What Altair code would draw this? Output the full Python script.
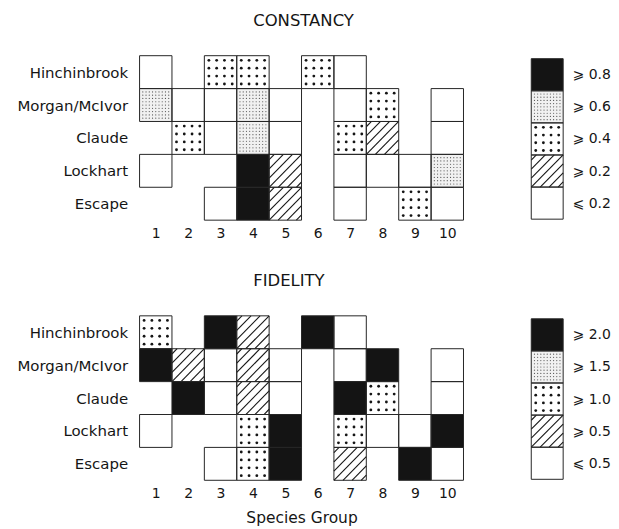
import altair as alt
import pandas as pd

# ---------------- data ----------------
SITES = ["Hinchinbrook", "Morgan/McIvor", "Claude", "Lockhart", "Escape"]
GROUPS = [1, 2, 3, 4, 5, 6, 7, 8, 9, 10]

# class codes: "b" black (highest), "f" fine stipple, "c" coarse dots,
# "h" hatched, "w" white (lowest); None = species group absent
CONST_HINCHINBROOK = ["w", None, "c", "c", None, "c", "w", None, None, None]
CONST_MORGAN = ["f", "w", "w", "f", "w", None, "w", "c", None, "w"]
CONST_CLAUDE = [None, "c", "w", "f", "w", None, "c", "h", None, "w"]
CONST_LOCKHART = ["w", None, None, "b", "h", None, "w", "w", "w", "f"]
CONST_ESCAPE = [None, None, "w", "b", "h", None, "w", None, "c", "w"]

FID_HINCHINBROOK = ["c", None, "b", "h", None, "b", "w", None, None, None]
FID_MORGAN = ["b", "h", "w", "h", "w", None, "w", "b", None, "w"]
FID_CLAUDE = [None, "b", "w", "h", "w", None, "b", "c", None, "w"]
FID_LOCKHART = ["w", None, None, "c", "b", None, "c", "w", "w", "b"]
FID_ESCAPE = [None, None, "w", "c", "b", None, "h", None, "b", "w"]

LEGEND_CLASSES = ["b", "f", "c", "h", "w"]
CONST_LEGEND_LABELS = ["⩾ 0.8", "⩾ 0.6", "⩾ 0.4", "⩾ 0.2", "⩽ 0.2"]
FID_LEGEND_LABELS = ["⩾ 2.0", "⩾ 1.5", "⩾ 1.0", "⩾ 0.5", "⩽ 0.5"]

# ---------------- pattern styling ----------------
FILL = {"w": "#ffffff", "h": "#ffffff", "c": "#ffffff", "f": "#f1f1f1", "b": "#141414"}
FINE_OFFSETS = [-0.4, -0.3, -0.2, -0.1, 0.0, 0.1, 0.2, 0.3, 0.4]
COARSE_OFFSETS = [-0.36, -0.12, 0.12, 0.36]
HATCH_OFFSETS = [-0.84, -0.56, -0.28, 0.0, 0.28, 0.56, 0.84]
INK = "#151515"


def frames(rows_of_classes, x_centers):
    cells, fine, coarse, hatch = [], [], [], []
    for r, cls_list in enumerate(rows_of_classes, start=1):
        for xc, cls in zip(x_centers, cls_list):
            if cls is None:
                continue
            cells.append(dict(x0=xc - 0.5, x1=xc + 0.5, y0=r - 0.5, y1=r + 0.5, fill=FILL[cls]))
            if cls == "f":
                for du in FINE_OFFSETS:
                    for dv in FINE_OFFSETS:
                        fine.append(dict(px=xc + du, py=r + dv))
            elif cls == "c":
                for du in COARSE_OFFSETS:
                    for dv in COARSE_OFFSETS:
                        coarse.append(dict(px=xc + du, py=r + dv))
            elif cls == "h":
                for b in HATCH_OFFSETS:
                    u0, u1 = max(0.0, -b), min(1.0, 1.0 - b)
                    hatch.append(dict(
                        hx=xc - 0.5 + u0, hy=r + 0.5 - (u0 + b),
                        hx2=xc - 0.5 + u1, hy2=r + 0.5 - (u1 + b)))
    return (pd.DataFrame(cells), pd.DataFrame(fine),
            pd.DataFrame(coarse), pd.DataFrame(hatch))


def layers(rows_of_classes, x_centers, xscale, yscale, xaxis, yaxis, w, h, title=None):
    cells, fine, coarse, hatch = frames(rows_of_classes, x_centers)
    X = lambda f: alt.X(f, scale=xscale, axis=xaxis)
    Y = lambda f: alt.Y(f, scale=yscale, axis=yaxis)
    out = [alt.Chart(cells).mark_rect(strokeWidth=0).encode(
        x=X("x0:Q"), x2="x1:Q", y=Y("y0:Q"), y2="y1:Q",
        fill=alt.Fill("fill:N", scale=None))]
    if len(fine):
        out.append(alt.Chart(fine).mark_circle(size=1.4, color="#555555", opacity=1).encode(
            x=X("px:Q"), y=Y("py:Q")))
    if len(coarse):
        out.append(alt.Chart(coarse).mark_circle(size=8, color=INK, opacity=1).encode(
            x=X("px:Q"), y=Y("py:Q")))
    if len(hatch):
        out.append(alt.Chart(hatch).mark_rule(color=INK, strokeWidth=1.1).encode(
            x=X("hx:Q"), y=Y("hy:Q"), x2="hx2:Q", y2="hy2:Q"))
    out.append(alt.Chart(cells).mark_rect(fillOpacity=0, stroke="#262626", strokeWidth=1).encode(
        x=X("x0:Q"), x2="x1:Q", y=Y("y0:Q"), y2="y1:Q"))
    props = dict(width=w, height=h)
    if title is not None:
        props["title"] = title
    return alt.layer(*out).properties(**props)


site_expr = "[" + ",".join("'" + s + "'" for s in SITES) + "][datum.value - 1]"


def panel(rows, legend_labels, name, xtitle):
    xscale = alt.Scale(domain=[0.5, 10.5], nice=False, zero=False)
    yscale = alt.Scale(domain=[0.5, 5.5], nice=False, zero=False, reverse=True)
    xaxis = alt.Axis(values=GROUPS, format="d", ticks=False, domain=False, grid=False,
                     labelFontSize=14, labelPadding=6, labelColor=INK,
                     title=xtitle, titleFontSize=15.5, titleFontWeight="normal",
                     titlePadding=10, titleColor=INK)
    yaxis = alt.Axis(values=[1, 2, 3, 4, 5], labelExpr=site_expr, ticks=False, domain=False,
                     grid=False, labelFontSize=15, labelPadding=12, labelColor=INK,
                     title=None, minExtent=127, maxExtent=127)
    title = alt.TitleParams(name, anchor="start", frame="group", dx=114, fontSize=16.5,
                            fontWeight="normal", offset=26, color=INK)
    grid = layers(rows, GROUPS, xscale, yscale, xaxis, yaxis, 325, 165, title)

    leg_expr = "[" + ",".join("'" + s + "'" for s in legend_labels) + "][datum.value - 1]"
    lxscale = alt.Scale(domain=[0, 1], nice=False, zero=False)
    lyscale = alt.Scale(domain=[0.407, 5.531], nice=False, zero=False, reverse=True)
    lyaxis = alt.Axis(orient="right", values=[1, 2, 3, 4, 5], labelExpr=leg_expr, ticks=False,
                      domain=False, grid=False, labelFontSize=14, labelPadding=9,
                      labelColor=INK, title=None)
    legend = layers([[c] for c in LEGEND_CLASSES], [0.5], lxscale, lyscale, None, lyaxis, 32, 165)
    return alt.hconcat(grid, legend, spacing=66)


top = panel([CONST_HINCHINBROOK, CONST_MORGAN, CONST_CLAUDE, CONST_LOCKHART, CONST_ESCAPE],
            CONST_LEGEND_LABELS, "CONSTANCY", None)
bottom = panel([FID_HINCHINBROOK, FID_MORGAN, FID_CLAUDE, FID_LOCKHART, FID_ESCAPE],
               FID_LEGEND_LABELS, "FIDELITY", "Species Group")

chart = alt.vconcat(top, bottom, spacing=32).properties(
    padding={"left": 5, "top": 4, "right": 0, "bottom": 0},
    background="white",
).configure(font="DejaVu Sans").configure_view(stroke=None)

chart.save("out.html", embed_options={"renderer": "svg", "actions": False})
